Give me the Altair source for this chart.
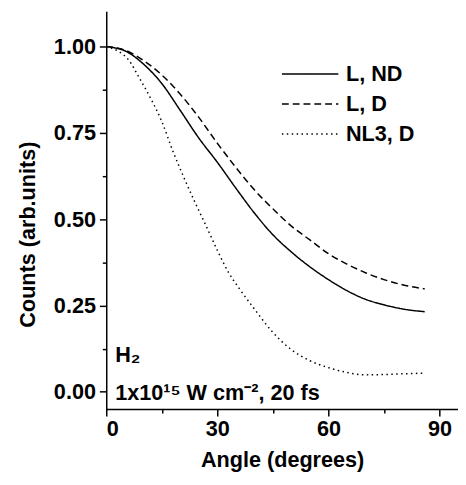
import altair as alt
import pandas as pd

# L, ND (solid)
ang_lnd = [0, 2, 5, 10, 15, 20, 25, 30, 35, 40, 45, 50, 55, 60, 65, 70, 75, 80, 86]
val_lnd = [1.0, 0.997, 0.988, 0.95, 0.893, 0.815, 0.735, 0.665, 0.59, 0.518, 0.455, 0.405,
           0.362, 0.325, 0.293, 0.268, 0.252, 0.240, 0.232]
# L, D (dashed)
ang_ld = [0, 2, 5, 10, 15, 20, 25, 30, 35, 40, 45, 50, 55, 60, 65, 70, 75, 80, 86]
val_ld = [1.0, 0.998, 0.99, 0.96, 0.918, 0.862, 0.795, 0.72, 0.65, 0.585, 0.53, 0.48,
          0.44, 0.40, 0.37, 0.345, 0.325, 0.31, 0.298]
# NL3, D (dotted)
ang_nl = [0, 3, 6, 9, 12, 15, 18, 21, 24, 27, 30, 33, 36, 40, 45, 50, 55, 60, 65, 70, 75, 80, 86]
val_nl = [1.0, 0.988, 0.962, 0.908, 0.85, 0.783, 0.697, 0.62, 0.548, 0.48, 0.41, 0.346,
          0.298, 0.24, 0.172, 0.122, 0.09, 0.07, 0.056, 0.049, 0.05, 0.052, 0.054]

series = ["L, ND", "L, D", "NL3, D"]
dashes = [[1, 0], [7, 4], [1.5, 3.5]]

ann_x = [2.4, 2.4]
ann_y = [0.085, -0.025]
ann_text = ["H₂", "1x10¹⁵ W cm⁻², 20 fs"]

rows = []
for name, xs, ys in zip(series, [ang_lnd, ang_ld, ang_nl], [val_lnd, val_ld, val_nl]):
    for a, v in zip(xs, ys):
        rows.append({"angle": a, "counts": v, "series": name})
df = pd.DataFrame(rows)
ann = pd.DataFrame({"x": ann_x, "y": ann_y, "t": ann_text})

FONT = "Liberation Sans"
FS = 22

xscale = alt.Scale(domain=[0, 95], nice=False, zero=False)
yscale = alt.Scale(domain=[-0.05, 1.1], nice=False, zero=False)

xaxis = alt.Axis(
    values=[0, 15, 30, 45, 60, 75, 90],
    labelExpr="datum.value % 30 === 0 ? datum.label : ''",
    tickSize={"condition": {"test": "datum.value % 30 === 0", "value": 7}, "value": 4},
    grid=False, domainColor="black", tickColor="black", domainWidth=1.5, tickWidth=1.5,
    labelFont=FONT, labelFontWeight="bold", labelFontSize=FS, labelColor="black",
    labelPadding=3, titleFont=FONT, titleFontWeight="bold", titleFontSize=FS,
    titleColor="black", titlePadding=10, title="Angle (degrees)",
)
yaxis = alt.Axis(
    values=[0, 0.125, 0.25, 0.375, 0.5, 0.625, 0.75, 0.875, 1.0],
    format=".2f",
    labelExpr="abs(datum.value*4 - round(datum.value*4)) < 0.001 ? datum.label : ''",
    tickSize={"condition": {"test": "abs(datum.value*4 - round(datum.value*4)) < 0.001", "value": 7}, "value": 4},
    grid=False, domainColor="black", tickColor="black", domainWidth=1.5, tickWidth=1.5,
    labelFont=FONT, labelFontWeight="bold", labelFontSize=FS, labelColor="black",
    labelPadding=4, titleFont=FONT, titleFontWeight="bold", titleFontSize=FS,
    titleColor="black", titlePadding=14, titleY=226, title="Counts (arb.units)",
)

lines = alt.Chart(df).mark_line(color="black", strokeWidth=1.5, interpolate="monotone").encode(
    x=alt.X("angle:Q", scale=xscale, axis=xaxis),
    y=alt.Y("counts:Q", scale=yscale, axis=yaxis),
    strokeDash=alt.StrokeDash(
        "series:N",
        scale=alt.Scale(domain=series, range=dashes),
        sort=series,
        legend=alt.Legend(
            title=None, orient="none", legendX=178, legendY=52,
            symbolType="stroke", symbolSize=3300, symbolStrokeColor="black",
            symbolStrokeWidth=1.5, clipHeight=22, rowPadding=8.5,
            labelFont=FONT, labelFontWeight="bold", labelFontSize=FS,
            labelColor="black", labelOffset=7,
        ),
    ),
    detail="series:N",
)

text = alt.Chart(ann).mark_text(
    align="left", baseline="alphabetic", font=FONT, fontWeight="bold",
    fontSize=FS, color="black",
).encode(
    x=alt.X("x:Q", scale=xscale),
    y=alt.Y("y:Q", scale=yscale),
    text="t:N",
)

chart = alt.layer(lines, text).properties(
    width=358, height=404,
    autosize=alt.AutoSizeParams(type="none"),
    padding={"left": 100, "top": 0, "right": 0, "bottom": 65},
).configure_view(stroke=None).configure_axis(domainCap="square")

chart.save("out.html", embed_options={"renderer": "svg", "actions": False})
